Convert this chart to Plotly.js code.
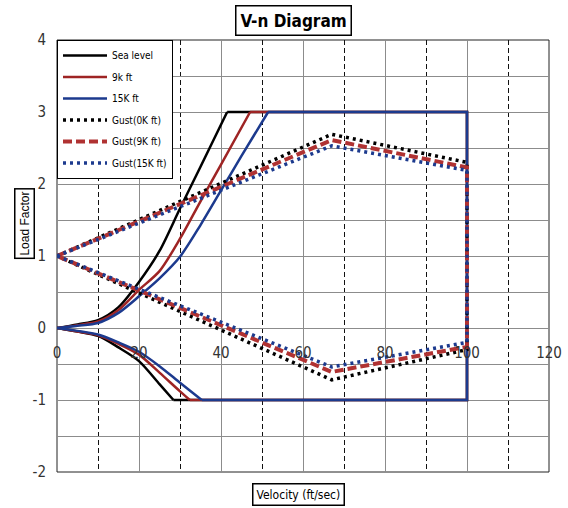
<!DOCTYPE html>
<html>
<head>
<meta charset="utf-8">
<script src="https://cdn.plot.ly/plotly-3.0.1.min.js"></script>
<style>
  html, body { margin: 0; padding: 0; background: #fff; }
  #chart { width: 568px; height: 508px; }
</style>
</head>
<body>
<div id="chart"></div>
<script>
// Velocity ticks (ft/sec)
const velocityTicks = [0, 20, 40, 60, 80, 100, 120];
const loadTicks = [-2, -1, 0, 1, 2, 3, 4];

// Manoeuvre envelope limits
const diveSpeed = 100;
const nLimitPos = 3;
const nLimitNeg = -1;

// Stall boundaries — sea level
const seaPosV = [0, 5, 10, 15, 20, 25, 30, 35, 41.5];
const seaPosN = [0, 0.05, 0.11, 0.29, 0.64, 1.07, 1.66, 2.24, 3.0];
const seaNegV = [0, 5, 10, 15, 20, 25, 28.4];
const seaNegN = [0, -0.05, -0.11, -0.27, -0.46, -0.78, -1.0];

// Stall boundaries — 9k ft
const k9PosV = [0, 5, 10, 15, 20, 25, 30, 35, 40, 47.1];
const k9PosN = [0, 0.04, 0.09, 0.25, 0.53, 0.79, 1.24, 1.76, 2.27, 3.0];
const k9NegV = [0, 5, 10, 15, 20, 25, 30, 32.4];
const k9NegN = [0, -0.05, -0.1, -0.22, -0.37, -0.62, -0.88, -1.0];

// Stall boundaries — 15K ft
const k15PosV = [0, 5, 10, 15, 20, 25, 30, 35, 40, 45, 51.5];
const k15PosN = [0, 0.03, 0.07, 0.21, 0.44, 0.69, 0.99, 1.43, 1.91, 2.39, 3.0];
const k15NegV = [0, 5, 10, 15, 20, 25, 30, 35.3];
const k15NegN = [0, -0.04, -0.09, -0.2, -0.33, -0.53, -0.76, -1.0];

// Gust lines (0 -> Vc -> Vd, back through the negative side)
const gustV = [0, 67, 100, 100, 67, 0];
const gust0N = [1, 2.69, 2.30, -0.30, -0.72, 1];
const gust9N = [1, 2.61, 2.23, -0.26, -0.61, 1];
const gust15N = [1, 2.53, 2.19, -0.20, -0.54, 1];

const seriesNames = ['Sea level', '9k ft', '15K ft', 'Gust(0K ft)', 'Gust(9K ft)', 'Gust(15K ft)'];

const BLACK = '#000000';
const RED = '#9E2424';
const BLUE = '#1C3A8E';
const NARROW = '"Liberation Sans Narrow", "Arial Narrow", "DejaVu Sans Condensed", "Liberation Sans", Arial, sans-serif';

function last(a) { return a[a.length - 1]; }

// One altitude's envelope: smooth stall curves plus straight limit-load / dive-speed edges
function envelopeTraces(i, posV, posN, negV, negN, color) {
  const base = { type: 'scatter', mode: 'lines', legendgroup: 'g' + i,
                 name: seriesNames[i], hoverinfo: 'skip' };
  return [
    Object.assign({}, base, { x: posV, y: posN, showlegend: true,
      line: { color: color, width: 2.5, shape: 'spline', smoothing: 0.8 } }),
    Object.assign({}, base, { x: negV, y: negN, showlegend: false,
      line: { color: color, width: 2.5, shape: 'spline', smoothing: 0.8 } }),
    Object.assign({}, base, {
      x: [last(posV), diveSpeed, diveSpeed, last(negV)],
      y: [last(posN), nLimitPos, nLimitNeg, last(negN)],
      showlegend: false, line: { color: color, width: 2.5 } })
  ];
}

function gustTrace(i, ys, color, width, dash) {
  return {
    type: 'scatter', mode: 'lines', name: seriesNames[i],
    legendgroup: 'g' + i, x: gustV, y: ys,
    line: { color: color, width: width, dash: dash },
    hoverinfo: 'skip'
  };
}

const traces = [].concat(
  envelopeTraces(0, seaPosV, seaPosN, seaNegV, seaNegN, BLACK),
  envelopeTraces(1, k9PosV, k9PosN, k9NegV, k9NegN, RED),
  envelopeTraces(2, k15PosV, k15PosN, k15NegV, k15NegN, BLUE),
  [
    gustTrace(3, gust0N, BLACK, 3.5, '3px,4px'),
    gustTrace(4, gust9N, '#B03232', 4, '9px,4px'),
    gustTrace(5, gust15N, BLUE, 3.5, '3px,4px')
  ]
);

const layout = {
  width: 568, height: 508,
  margin: { l: 57, r: 19, t: 40, b: 36 },
  paper_bgcolor: '#fff', plot_bgcolor: '#fff',
  showlegend: true,
  legend: {
    x: 0, y: 1, xanchor: 'left', yanchor: 'top',
    bgcolor: '#fff', bordercolor: '#000', borderwidth: 1,
    font: { family: NARROW, size: 10, color: '#000' },
    tracegroupgap: 2.5,
    itemwidth: 44
  },
  xaxis: {
    range: [0, 120], tickvals: velocityTicks, ticktext: velocityTicks.map(String),
    anchor: 'free', position: 2 / 6,
    showline: false, zeroline: false, ticks: '',
    ticklabelstandoff: 14,
    tickfont: { family: NARROW, size: 15, color: '#333' },
    showgrid: true, gridcolor: '#8c8c8c', gridwidth: 1,
    minor: { dtick: 10, showgrid: true, gridcolor: '#111', griddash: '5px,3px', gridwidth: 1 }
  },
  yaxis: {
    range: [-2, 4], tickvals: loadTicks, ticktext: loadTicks.map(String),
    showline: false, zeroline: false, ticks: '',
    ticklabelstandoff: 10,
    tickfont: { family: NARROW, size: 15, color: '#333' },
    showgrid: true, gridcolor: '#8c8c8c', gridwidth: 1,
    minor: { dtick: 0.5, showgrid: true, gridcolor: '#8c8c8c', gridwidth: 1 }
  },
  shapes: [
    { type: 'rect', xref: 'paper', yref: 'paper', x0: 0, x1: 1, y0: 0, y1: 1,
      line: { color: '#222', width: 1 }, layer: 'below' }
  ],
  annotations: [
    { text: '<b>V-n Diagram</b>', xref: 'paper', yref: 'paper', x: 0.48, y: 1.046,
      xanchor: 'center', yanchor: 'middle', showarrow: false,
      font: { family: NARROW, size: 17, color: '#000' },
      bordercolor: '#000', borderwidth: 1.5, borderpad: 4, bgcolor: '#fff' },
    { text: 'Load Factor', xref: 'paper', yref: 'paper', x: -0.067, y: 0.574,
      xanchor: 'center', yanchor: 'middle', showarrow: false, textangle: -90,
      font: { family: '"Liberation Sans", Arial, sans-serif', size: 12, color: '#000' },
      bordercolor: '#000', borderwidth: 1.5, borderpad: 2, bgcolor: '#fff' },
    { text: 'Velocity (ft/sec)', xref: 'paper', yref: 'paper', x: 0.49, y: -0.051,
      xanchor: 'center', yanchor: 'middle', showarrow: false,
      font: { family: NARROW, size: 12, color: '#000' },
      bordercolor: '#000', borderwidth: 1.5, borderpad: 3, bgcolor: '#fff' }
  ]
};

Plotly.newPlot('chart', traces, layout, { staticPlot: true, displayModeBar: false });
</script>
</body>
</html>
